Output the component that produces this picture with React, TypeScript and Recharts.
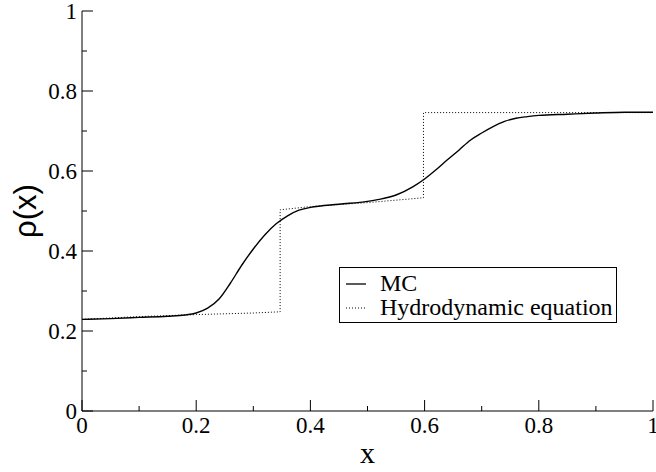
import React from 'react';
import { LineChart, Line, XAxis, YAxis, Legend } from 'recharts';

const mcX = [0, 0.05, 0.1, 0.15, 0.18, 0.2, 0.22, 0.24, 0.26, 0.28, 0.3, 0.32, 0.34, 0.36, 0.38, 0.4, 0.45, 0.5, 0.52, 0.55, 0.58, 0.6, 0.62, 0.64, 0.66, 0.68, 0.7, 0.72, 0.74, 0.76, 0.78, 0.8, 0.85, 0.9, 0.95, 1];
const mcRho = [0.229, 0.231, 0.234, 0.237, 0.24, 0.245, 0.257, 0.28, 0.32, 0.365, 0.405, 0.44, 0.468, 0.488, 0.502, 0.509, 0.517, 0.524, 0.529, 0.54, 0.561, 0.58, 0.603, 0.628, 0.652, 0.677, 0.695, 0.711, 0.724, 0.732, 0.736, 0.739, 0.742, 0.745, 0.747, 0.747];

const hydroX = [0, 0.1, 0.2, 0.3, 0.347, 0.347, 0.4, 0.5, 0.598, 0.598, 0.8, 1];
const hydroRho = [0.229, 0.236, 0.241, 0.245, 0.248, 0.503, 0.511, 0.521, 0.533, 0.746, 0.746, 0.746];

const tickValues = [0, 0.1, 0.2, 0.3, 0.4, 0.5, 0.6, 0.7, 0.8, 0.9, 1];
const tickLabels = ['0', '', '0.2', '', '0.4', '', '0.6', '', '0.8', '', '1'];

const mcData = mcX.map((x, i) => ({ x, rho: mcRho[i] }));
const hydroData = hydroX.map((x, i) => ({ x, rho: hydroRho[i] }));

const serif = '"Liberation Serif", "Times New Roman", serif';
const TINY = 0.001;
const labelFor = (v: number) => tickLabels[tickValues.findIndex((t) => Math.abs(t - v) < 1e-6)] || '';

const BottomTick = (props: any) => {
    const { x, y, payload } = props;
    const label = labelFor(payload.value);
    return (
        <g>
            <line x1={x} y1={y} x2={x} y2={y - (label ? 11 : 5)} stroke="#000" />
            {label && (
                <text x={x} y={y + 22} textAnchor="middle" fontFamily={serif} fontSize={23} fill="#000">
                    {label}
                </text>
            )}
        </g>
    );
};

const LeftTick = (props: any) => {
    const { x, y, payload } = props;
    const label = labelFor(payload.value);
    return (
        <g>
            <line x1={x} y1={y} x2={x + (label ? 11 : 5)} y2={y} stroke="#000" />
            {label && (
                <text x={x - 5} y={y + 8} textAnchor="end" fontFamily={serif} fontSize={23} fill="#000">
                    {label}
                </text>
            )}
        </g>
    );
};

const TopTick = (props: any) => {
    const { x, y, payload } = props;
    const major = labelFor(payload.value) !== '';
    return <line x1={x} y1={y} x2={x} y2={y + (major ? 11 : 5)} stroke="#000" />;
};

const RightTick = (props: any) => {
    const { x, y, payload } = props;
    const major = labelFor(payload.value) !== '';
    return <line x1={x} y1={y} x2={x - (major ? 11 : 5)} y2={y} stroke="#000" />;
};

const LegendBox = () => (
    <div
        style={{
            width: 276,
            height: 54,
            border: '1px solid #000',
            background: '#fff',
            fontFamily: serif,
            fontSize: 24,
            lineHeight: '24px',
            position: 'relative',
        }}
    >
        <svg width={30} height={54} style={{ position: 'absolute', left: 0, top: 0 }}>
            <line x1={6} y1={16} x2={26} y2={16} stroke="#000" strokeWidth={1.3} />
            <line x1={6} y1={40} x2={26} y2={40} stroke="#000" strokeDasharray="1 2" />
        </svg>
        <div style={{ position: 'absolute', left: 40, top: 3 }}>MC</div>
        <div style={{ position: 'absolute', left: 40, top: 27 }}>Hydrodynamic equation</div>
    </div>
);

export default function App() {
    return (
        <div style={{ position: 'absolute', left: 0, top: 0 }}>
            <LineChart width={656} height={472} margin={{ top: 11, right: 3, bottom: 0, left: 0 }}>
                <XAxis
                    dataKey="x"
                    type="number"
                    domain={[0, 1]}
                    ticks={tickValues}
                    interval={0}
                    height={61}
                    tickSize={TINY}
                    tickMargin={TINY}
                    tickLine={false}
                    tick={<BottomTick />}
                    axisLine={{ stroke: '#000' }}
                    allowDataOverflow
                    label={{ value: 'x', position: 'insideBottom', offset: 9, fontFamily: serif, fontSize: 30, fill: '#000' }}
                />
                <XAxis
                    xAxisId="top"
                    orientation="top"
                    type="number"
                    domain={[0, 1]}
                    ticks={tickValues}
                    interval={0}
                    height={0}
                    tickSize={TINY}
                    tickMargin={TINY}
                    tickLine={false}
                    tick={<TopTick />}
                    axisLine={{ stroke: '#000' }}
                    allowDataOverflow
                />
                <YAxis
                    type="number"
                    domain={[0, 1]}
                    ticks={tickValues}
                    interval={0}
                    width={82}
                    tickSize={TINY}
                    tickMargin={TINY}
                    tickLine={false}
                    tick={<LeftTick />}
                    axisLine={{ stroke: '#000' }}
                    allowDataOverflow
                    label={{
                        value: 'ρ(x)',
                        angle: -90,
                        position: 'insideLeft',
                        offset: 25,
                        fontFamily: '"Liberation Sans", Arial, sans-serif',
                        fontSize: 31,
                        fill: '#000',
                        style: { textAnchor: 'middle' },
                    }}
                />
                <YAxis
                    yAxisId="right"
                    orientation="right"
                    type="number"
                    domain={[0, 1]}
                    ticks={tickValues}
                    interval={0}
                    width={0}
                    tickSize={TINY}
                    tickMargin={TINY}
                    tickLine={false}
                    tick={<RightTick />}
                    axisLine={{ stroke: '#000' }}
                    allowDataOverflow
                />
                <Line
                    data={hydroData}
                    dataKey="rho"
                    type="linear"
                    stroke="#000"
                    strokeWidth={1}
                    strokeDasharray="1 2"
                    dot={false}
                    isAnimationActive={false}
                    name="Hydrodynamic equation"
                />
                <Line
                    data={mcData}
                    dataKey="rho"
                    type="monotone"
                    stroke="#000"
                    strokeWidth={1.4}
                    dot={false}
                    isAnimationActive={false}
                    name="MC"
                />
                <Legend
                    layout="vertical"
                    align="center"
                    verticalAlign="middle"
                    content={<LegendBox />}
                    wrapperStyle={{ position: 'absolute', left: 339, top: 267, width: 278, height: 56 }}
                />
            </LineChart>
        </div>
    );
}
